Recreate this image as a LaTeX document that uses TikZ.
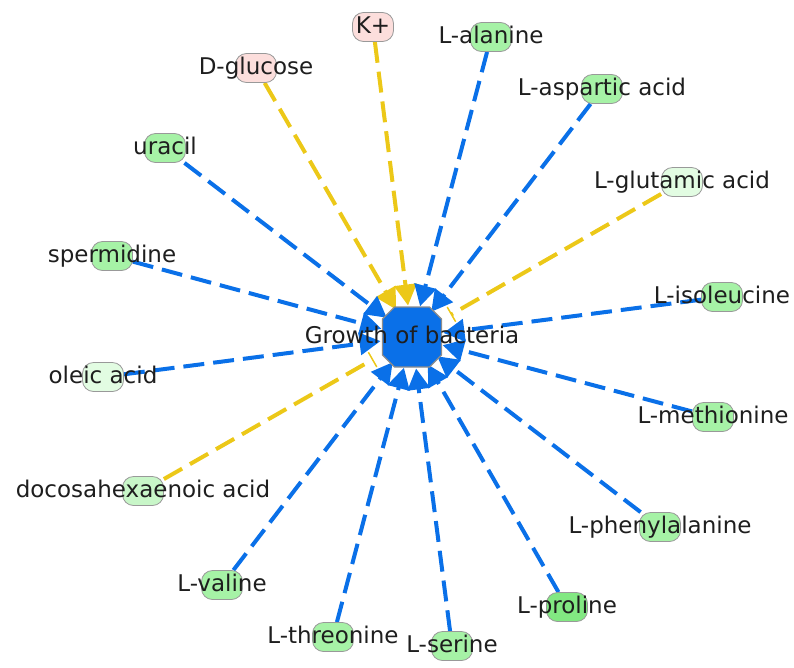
\documentclass[tikz,border=0pt]{standalone}
\usepackage{fontspec}
\setmainfont{DejaVu Sans}
\usetikzlibrary{arrows.meta}
\pgfdeclarelayer{bg}
\pgfsetlayers{bg,main}
\definecolor{upblue}{RGB}{10,112,232}
\definecolor{incyellow}{RGB}{236,200,24}
\definecolor{molpink}{RGB}{252,222,220}
\definecolor{molgreen}{RGB}{166,242,166}
\definecolor{moldark}{RGB}{130,232,130}
\definecolor{mollight}{RGB}{200,246,200}
\definecolor{molpale}{RGB}{226,252,226}
\definecolor{txtgray}{RGB}{30,30,30}

\begin{document}
\begin{tikzpicture}[x=1pt, y=-1pt,
  mol/.style={draw=black!40, line width=0.8pt, rounded corners=11pt, minimum width=41pt, minimum height=29pt, inner sep=0pt, fill=#1},
  every label/.style={font=\fontsize{23}{28}\selectfont, text=txtgray, inner sep=0pt, text height=17pt, text depth=5pt},
  link/.style={line width=4pt, dash pattern=on 21pt off 9pt},
  leads/.style={link, -{Triangle[length=21pt, width=22pt]}},
  blocks/.style={link, -{Bar[width=17pt, line width=1.5pt]}, shorten >=13pt}]
\useasboundingbox (0,0) rectangle (794,667);
% nodes %
\coordinate (c) at (412,337);
\draw[draw=black!45, line width=1.2pt, fill=upblue]
  ([shift={(-17.5,-30)}]c) -- ([shift={(17.5,-30)}]c) -- ([shift={(29.5,-18)}]c) -- ([shift={(29.5,18)}]c)
  -- ([shift={(17.5,30)}]c) -- ([shift={(-17.5,30)}]c) -- ([shift={(-29.5,18)}]c) -- ([shift={(-29.5,-18)}]c) -- cycle;
\node[circle, minimum size=63pt, inner sep=0pt, label=center:{Growth of bacteria}] (g) at (c) {};
\node[mol=molpink, label=center:{K+}] (kp) at (373,27) {};
\node[mol=molpink, label=center:{D-glucose}] (glc) at (256,68) {};
\node[mol=molgreen, label=center:{L-alanine}] (ala) at (491,37) {};
\node[mol=molgreen, label=center:{L-aspartic acid}] (asp) at (602,89) {};
\node[mol=molpale, label=center:{L-glutamic acid}] (glu) at (682,182) {};
\node[mol=molgreen, label=center:{uracil}] (ura) at (165,148) {};
\node[mol=molgreen, label=center:{spermidine}] (spd) at (112,256) {};
\node[mol=molpale, label=center:{oleic acid}] (ole) at (103,377) {};
\node[mol=mollight, label=center:{docosahexaenoic acid}] (dha) at (143,491) {};
\node[mol=molgreen, label=center:{L-isoleucine}] (ile) at (722,297) {};
\node[mol=molgreen, label=center:{L-methionine}] (met) at (713,417) {};
\node[mol=molgreen, label=center:{L-phenylalanine}] (phe) at (660,527) {};
\node[mol=molgreen, label=center:{L-valine}] (val) at (222,585) {};
\node[mol=molgreen, label=center:{L-threonine}] (thr) at (333,637) {};
\node[mol=molgreen, label=center:{L-serine}] (ser) at (452,646) {};
\node[mol=moldark, label=center:{L-proline}] (pro) at (567,607) {};
% edges %
\begin{pgfonlayer}{bg}
\draw[leads, incyellow] (kp) -- (g);
\draw[leads, incyellow] (glc) -- (g);
\draw[blocks, incyellow] (glu) -- (g);
\draw[blocks, incyellow] (dha) -- (g);
\draw[leads, upblue] (ala) -- (g);
\draw[leads, upblue] (asp) -- (g);
\draw[leads, upblue] (ura) -- (g);
\draw[leads, upblue] (spd) -- (g);
\draw[leads, upblue] (ole) -- (g);
\draw[leads, upblue] (ile) -- (g);
\draw[leads, upblue] (met) -- (g);
\draw[leads, upblue] (phe) -- (g);
\draw[leads, upblue] (val) -- (g);
\draw[leads, upblue] (thr) -- (g);
\draw[leads, upblue] (ser) -- (g);
\draw[leads, upblue] (pro) -- (g);
\end{pgfonlayer}
\end{tikzpicture}
\end{document}
